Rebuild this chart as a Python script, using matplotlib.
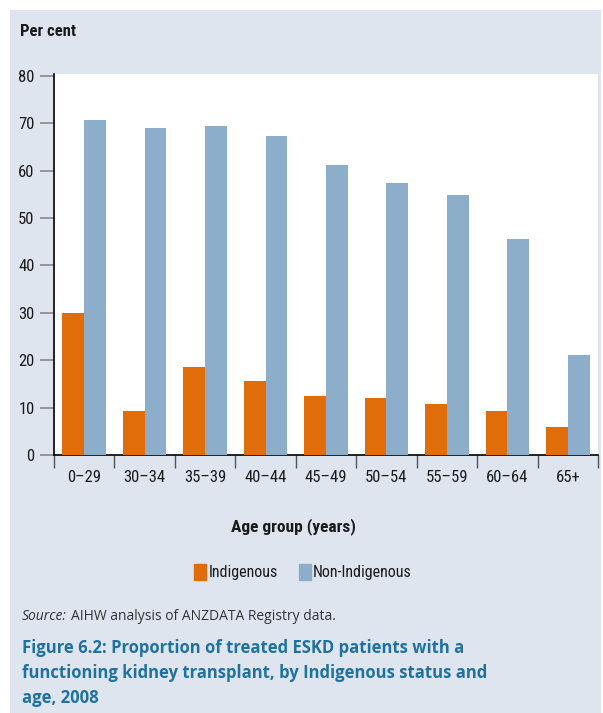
import matplotlib
matplotlib.use('Agg')
import matplotlib.pyplot as plt
import matplotlib.patches as mpatches
from matplotlib import font_manager
import numpy as np

# data
age_groups = ["0–29", "30–34", "35–39", "40–44", "45–49", "50–54", "55–59", "60–64", "65+"]
indigenous = [30.0, 9.3, 18.5, 15.6, 12.4, 12.0, 10.7, 9.3, 5.9]
non_indigenous = [70.6, 69.1, 69.5, 67.4, 61.1, 57.3, 54.8, 45.5, 21.1]

ORANGE = "#E06C0A"
BLUE = "#8CAECB"
PANEL = "#DFE5EF"
TITLE_BLUE = "#1F72A0"

installed = {f.name for f in font_manager.fontManager.ttflist}
narrow = next((n for n in ['Liberation Sans Narrow', 'Roboto Condensed', 'Open Sans Condensed', 'Lato']
               if n in installed), 'DejaVu Sans')
NARROW = [narrow, 'DejaVu Sans']
BODY = ['Open Sans', 'DejaVu Sans']
NSIZE = 12 if narrow != 'Lato' else 11.5

W, H = 603, 713
fig = plt.figure(figsize=(W / 100, H / 100), dpi=100)
fig.patch.set_facecolor('white')

# panel behind everything
fig.patches.append(mpatches.Rectangle((10 / W, 0), 591 / W, 1 - 10 / H, transform=fig.transFigure,
                                      facecolor=PANEL, edgecolor='none', zorder=-5))

# main axes (pixel positions -> figure fractions)
left, right, top, bottom = 54, 598, 74, 455
ax = fig.add_axes([left / W, 1 - bottom / H, (right - left) / W, (bottom - top) / H])
ax.set_zorder(2)
ax.set_facecolor('white')

x = np.arange(len(age_groups))
bw = 0.36
ax.bar(x - bw / 2, indigenous, bw, color=ORANGE, label='Indigenous', zorder=3)
ax.bar(x + bw / 2, non_indigenous, bw, color=BLUE, label='Non-Indigenous', zorder=3)

ax.set_xlim(-0.5, len(age_groups) - 0.5)
ax.set_ylim(0, 80.4)
ax.set_yticks(range(0, 81, 10))
ax.set_yticklabels([str(v) for v in range(0, 81, 10)], family=NARROW, fontsize=NSIZE, color='#1a1a1a')

# category boundary ticks on the x axis, labels at centres
ax.set_xticks(np.arange(-0.5, len(age_groups), 1.0))
ax.set_xticklabels([])
ax.set_xticks(x, minor=True)
ax.set_xticklabels(age_groups, minor=True, family=NARROW, fontsize=NSIZE, color='#1a1a1a')
ax.tick_params(axis='x', which='minor', length=0, pad=11)
ax.tick_params(axis='x', which='major', length=9, width=1, color='#555555', direction='out')
ax.tick_params(axis='y', length=10, width=1.2, color='#888888', direction='out', pad=4)

for s in ['top', 'right']:
    ax.spines[s].set_visible(False)
for s in ['left', 'bottom']:
    ax.spines[s].set_color('black')
    ax.spines[s].set_linewidth(1.2)

fig.text(20 / W, 1 - 32 / H, "Per cent", family=NARROW, fontsize=NSIZE, fontweight='bold',
         ha='left', va='center', color='#1a1a1a')
fig.text(293 / W, 1 - 527 / H, "Age group (years)", family=NARROW, fontsize=NSIZE + 0.5, fontweight='bold',
         ha='center', va='center', color='#1a1a1a')

fig.legend(handles=[mpatches.Patch(color=ORANGE, label='Indigenous'),
                    mpatches.Patch(color=BLUE, label='Non-Indigenous')],
           loc='center', bbox_to_anchor=(303 / W, 1 - 572 / H), ncol=2, frameon=False,
           prop={'family': NARROW, 'size': NSIZE - 0.5}, handlelength=0.75, handleheight=1.2,
           handletextpad=0.15, columnspacing=1.3, labelcolor='#1a1a1a')

# source line: italic "Source:" then plain text right after it
src_y = 1 - 616 / H
t_src = fig.text(22 / W, src_y, "Source:", family=BODY, fontsize=10, style='italic',
                 ha='left', va='center', color='#333333')
fig.canvas.draw()
bb = t_src.get_window_extent(fig.canvas.get_renderer())
fig.text((bb.x1 + 4) / W, src_y, "AIHW analysis of ANZDATA Registry data.", family=BODY, fontsize=10,
         ha='left', va='center', color='#333333')

title_lines = ["Figure 6.2: Proportion of treated ESKD patients with a",
               "functioning kidney transplant, by Indigenous status and",
               "age, 2008"]
for i, line in enumerate(title_lines):
    fig.text(22 / W, 1 - (648 + 25 * i) / H, line, family=BODY, fontsize=12, fontweight='bold',
             ha='left', va='center', color=TITLE_BLUE)

fig.savefig('out.png', dpi=100, facecolor='white')
